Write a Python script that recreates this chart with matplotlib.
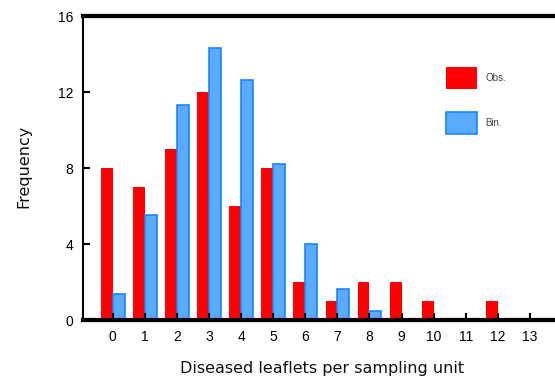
import matplotlib.pyplot as plt
import numpy as np

plt.rcParams['font.family'] = ['Liberation Sans', 'DejaVu Sans']

# diseased leaflets per sampling unit
counts = np.arange(14)
obs = [8, 7, 9, 12, 6, 8, 2, 1, 2, 2, 1, 0, 1, 0]
binom = [1.35, 5.55, 11.3, 14.3, 12.65, 8.2, 4.0, 1.65, 0.5, 0, 0, 0, 0, 0]
yticks = [0, 4, 8, 12, 16]

fig = plt.figure(figsize=(5.55, 3.78), dpi=100)
ax = fig.add_axes([0.1495, 0.1534, 0.892, 0.8042])

w = 0.37
ax.bar(counts - w/2, obs, width=w, color='#ff0000', linewidth=0, label='Obs.')
ax.bar(counts + w/2, binom, width=w, color='#5aaaff', edgecolor='#1a86ff',
       linewidth=1.2, label='Bin.')

ax.set_xlim(-0.93, 14.5)
ax.set_ylim(0, 16)
ax.set_xticks(counts)
ax.set_yticks(yticks)
ax.tick_params(direction='in', length=5, width=1.5, labelsize=10, pad=7)

for s in ['top', 'bottom']:
    ax.spines[s].set_linewidth(3)
ax.spines['left'].set_linewidth(1.5)
ax.spines['right'].set_visible(False)

ax.set_xlabel('Diseased leaflets per sampling unit', fontsize=11.5,
              family='DejaVu Sans', color='#111111')
ax.xaxis.set_label_coords(0.483, -0.135)
ax.set_ylabel('Frequency', fontsize=11.5, family='DejaVu Sans', color='#111111')
ax.yaxis.set_label_coords(-0.105, 0.507)

leg = ax.legend(loc='upper left', bbox_to_anchor=(0.716, 0.86), frameon=False,
                fontsize=7, handlelength=3.2, handleheight=3.0,
                labelspacing=2.45, handletextpad=0.8)
for t in leg.get_texts():
    t.set_color('#444444')

fig.savefig('out.png', dpi=100)
